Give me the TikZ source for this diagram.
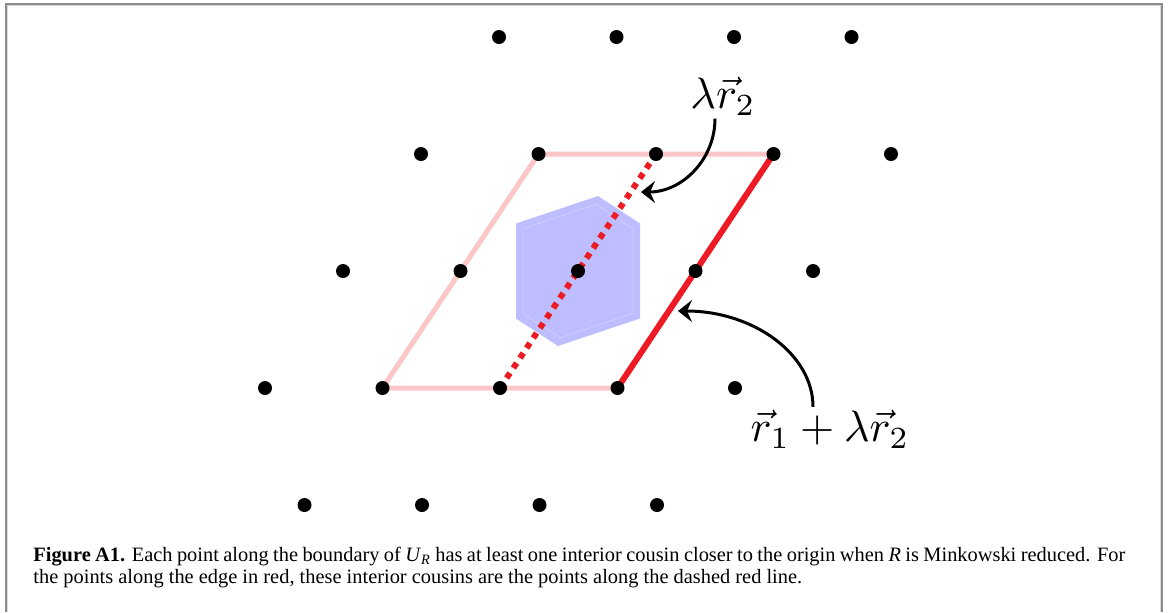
\documentclass[tikz,border=0pt]{standalone}
\usepackage{fontspec}
\newfontfamily\capfont{Liberation Serif}
\usepackage{tikz}
\usetikzlibrary{arrows.meta}
\pgfdeclarelayer{background}
\pgfsetlayers{background,main}
\definecolor{edgered}{RGB}{237,28,36}
\definecolor{cellblue}{RGB}{189,189,255}
\definecolor{framegray}{RGB}{140,140,140}

\begin{document}
\begin{tikzpicture}[
x=0.5pt, y=-0.5pt,
latpt/.style={circle, fill=black, inner sep=0pt, minimum size=7pt},
cellline/.style={edgered!25, line width=2.5pt},
fullline/.style={edgered, line width=3pt},
halfline/.style={edgered, line width=3pt, dash pattern=on 3pt off 3pt},
veclabel/.style={inner sep=0.5pt, scale=2.2},
callout/.style={-{Stealth[length=7pt,width=11pt,inset=2.5pt]}, line width=1.5pt},
capline/.style={inner sep=0pt, anchor=base west, font=\capfont\fontsize{10.2}{11}\selectfont}
]
\useasboundingbox (0,0) rectangle (1170,612);

% frame
\draw[framegray, line width=1pt] (6,612) -- (6,4) -- (1162,4) -- (1162,612);
\draw[gray!30, line width=0.6pt] (7.8,612) -- (7.8,5.8) -- (1160.2,5.8) -- (1160.2,612);

% lattice, in units of r1 and r2
\begin{scope}[shift={(578,271)}, x={(58.75pt,0pt)}, y={(39pt,58.5pt)}]
\foreach \j/\ilo/\ihi in {2/-2/1, 1/-2/2, 0/-2/2, -1/-2/2, -2/-1/2}
  \foreach \i in {\ilo,...,\ihi}
    \node[latpt] (p\i\j) at (\i,\j) {};
\end{scope}

\begin{pgfonlayer}{background}
% cell round the origin
\fill[cellblue, shift={(578,271)}] (20,-75) -- (62,-47.5) -- (62,47.5) -- (-20,75) -- (-62,47.5) -- (-62,-47.5) -- cycle;
\draw[white, opacity=0.35, line width=0.3pt, shift={(578,271)}, scale=0.89] (20,-75) -- (62,-47.5) -- (62,47.5) -- (-20,75) -- (-62,47.5) -- (-62,-47.5) -- cycle;
% U_R
\draw[cellline] (p-1-1.center) -- (p1-1.center) -- (p11.center) -- (p-11.center) -- cycle;
\draw[halfline] (p0-1.center) -- (p01.center);
\draw[fullline] (p1-1.center) -- (p11.center);
\end{pgfonlayer}

% labels
\node[veclabel] (lamlab) at (723,96.5) {$\lambda\vec{r}_2$};
\node[veclabel] (sumlab) at (830,429) {$\vec{r}_1+\lambda\vec{r}_2$};
\coordinate (hitdash) at (641,192);
\coordinate (hitedge) at (678,311);
\draw[callout] ([xshift=-4pt]lamlab.south) .. controls +(0,41) and +(41,0) .. (hitdash);
\draw[callout] ([xshift=-8.5pt]sumlab.north) .. controls +(0,-53) and +(75,0) .. (hitedge);

% caption
\node[capline] (capa) at (33,561) {\makebox[546pt][s]{\textbf{Figure A1.} Each point along the boundary of \textit{U}\textsubscript{\textit{R}} has at least one interior cousin closer to the origin when \textit{R} is Minkowski reduced. For}};
\node[capline] (capb) at (33,583) {the points along the edge in red, these interior cousins are the points along the dashed red line.};
\end{tikzpicture}
\end{document}
